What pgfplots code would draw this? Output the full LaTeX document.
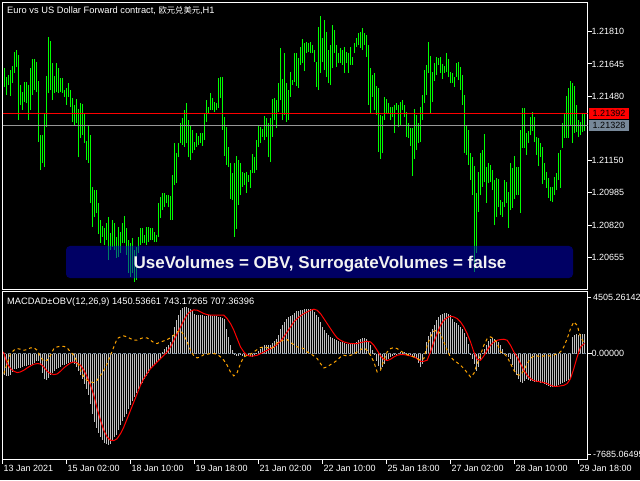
\documentclass[border=0pt]{standalone}
\usepackage{pgfplots}
\pgfplotsset{compat=1.18}
\usepackage{pgfplotstable}
\usepackage{fontspec}
\setmainfont{Liberation Sans}
\newfontfamily\cjk{Noto Sans CJK SC}
\definecolor{mtgreen}{RGB}{0,255,0}
\definecolor{mtsilver}{RGB}{192,192,192}
\definecolor{mtslate}{RGB}{119,136,153}
\definecolor{mtorange}{RGB}{255,165,0}
\definecolor{mtred}{RGB}{255,0,0}
\definecolor{mtgray}{RGB}{150,150,150}
\definecolor{boxblue}{RGB}{0,0,200}
\newcommand{\axfont}{\fontsize{9}{10}\selectfont}
\newcommand{\ttlfont}{\fontsize{9.3}{11}\selectfont}

% hourly bars: index, high, low
\pgfplotstableread{
i hi lo
0 1.21624 1.21527
1 1.21578 1.21486
2 1.21588 1.21537
3 1.21614 1.21481
4 1.21634 1.21547
5 1.21706 1.21599
6 1.21716 1.21629
7 1.21691 1.21358
8 1.21537 1.21435
9 1.21501 1.21409
10 1.21552 1.21450
11 1.21552 1.21445
12 1.21537 1.21358
13 1.21624 1.21409
14 1.21670 1.21486
15 1.21670 1.21511
16 1.21655 1.21501
17 1.21558 1.21245
18 1.21281 1.21102
19 1.21281 1.21138
20 1.21394 1.21117
21 1.21583 1.21322
22 1.21783 1.21496
23 1.21762 1.21511
24 1.21650 1.21460
25 1.21583 1.21496
26 1.21650 1.21501
27 1.21624 1.21496
28 1.21573 1.21501
29 1.21573 1.21496
30 1.21511 1.21476
31 1.21522 1.21435
32 1.21547 1.21476
33 1.21511 1.21424
34 1.21471 1.21348
35 1.21435 1.21332
36 1.21465 1.21342
37 1.21414 1.21168
38 1.21445 1.21266
39 1.21440 1.21281
40 1.21394 1.21240
41 1.21250 1.21153
42 1.21327 1.21138
43 1.21281 1.20933
44 1.21015 1.20810
45 1.20999 1.20861
46 1.20999 1.20882
47 1.20933 1.20774
48 1.20846 1.20728
49 1.20815 1.20759
50 1.20805 1.20718
51 1.20831 1.20743
52 1.20861 1.20641
53 1.20779 1.20692
54 1.20846 1.20708
55 1.20831 1.20692
56 1.20759 1.20651
57 1.20810 1.20656
58 1.20784 1.20677
59 1.20831 1.20728
60 1.20866 1.20728
61 1.20805 1.20667
62 1.20743 1.20575
63 1.20728 1.20554
64 1.20754 1.20575
65 1.20692 1.20529
66 1.20708 1.20539
67 1.20759 1.20677
68 1.20805 1.20718
69 1.20805 1.20728
70 1.20769 1.20728
71 1.20810 1.20718
72 1.20810 1.20733
73 1.20805 1.20743
74 1.20805 1.20743
75 1.20784 1.20733
76 1.20769 1.20733
77 1.20933 1.20759
78 1.20964 1.20856
79 1.20984 1.20897
80 1.20984 1.20912
81 1.20974 1.20933
82 1.20974 1.20912
83 1.20969 1.20846
84 1.21076 1.20846
85 1.21240 1.21025
86 1.21189 1.21035
87 1.21240 1.21168
88 1.21342 1.21240
89 1.21368 1.21230
90 1.21409 1.21220
91 1.21445 1.21240
92 1.21358 1.21168
93 1.21332 1.21153
94 1.21307 1.21189
95 1.21245 1.21204
96 1.21291 1.21220
97 1.21276 1.21230
98 1.21291 1.21240
99 1.21291 1.21225
100 1.21394 1.21255
101 1.21460 1.21348
102 1.21424 1.21394
103 1.21496 1.21409
104 1.21471 1.21409
105 1.21450 1.21399
106 1.21445 1.21409
107 1.21573 1.21419
108 1.21578 1.21471
109 1.21578 1.21307
110 1.21373 1.21174
111 1.21322 1.21127
112 1.21220 1.21117
113 1.21138 1.20953
114 1.21087 1.20948
115 1.21138 1.20759
116 1.21174 1.20800
117 1.21153 1.20923
118 1.21138 1.20974
119 1.21092 1.21015
120 1.21087 1.21025
121 1.21092 1.20984
122 1.21076 1.21040
123 1.21102 1.21010
124 1.21184 1.21087
125 1.21168 1.21087
126 1.21255 1.21102
127 1.21332 1.21220
128 1.21322 1.21240
129 1.21312 1.21271
130 1.21378 1.21255
131 1.21368 1.21271
132 1.21342 1.21168
133 1.21368 1.21143
134 1.21465 1.21271
135 1.21471 1.21358
136 1.21460 1.21317
137 1.21547 1.21399
138 1.21727 1.21460
139 1.21568 1.21358
140 1.21701 1.21383
141 1.21547 1.21348
142 1.21511 1.21358
143 1.21604 1.21476
144 1.21563 1.21537
145 1.21701 1.21552
146 1.21701 1.21532
147 1.21675 1.21522
148 1.21732 1.21640
149 1.21773 1.21650
150 1.21752 1.21609
151 1.21757 1.21701
152 1.21752 1.21706
153 1.21757 1.21701
154 1.21742 1.21701
155 1.21716 1.21655
156 1.21655 1.21527
157 1.21834 1.21511
158 1.21890 1.21599
159 1.21778 1.21655
160 1.21870 1.21614
161 1.21809 1.21578
162 1.21716 1.21547
163 1.21742 1.21537
164 1.21844 1.21624
165 1.21819 1.21701
166 1.21742 1.21629
167 1.21701 1.21650
168 1.21727 1.21650
169 1.21716 1.21640
170 1.21732 1.21599
171 1.21706 1.21650
172 1.21701 1.21599
173 1.21732 1.21640
174 1.21681 1.21640
175 1.21752 1.21701
176 1.21778 1.21732
177 1.21803 1.21742
178 1.21809 1.21727
179 1.21829 1.21716
180 1.21803 1.21742
181 1.21793 1.21681
182 1.21742 1.21435
183 1.21624 1.21394
184 1.21588 1.21476
185 1.21599 1.21409
186 1.21532 1.21383
187 1.21522 1.21194
188 1.21383 1.21158
189 1.21378 1.21189
190 1.21476 1.21358
191 1.21465 1.21389
192 1.21445 1.21394
193 1.21424 1.21358
194 1.21424 1.21373
195 1.21435 1.21291
196 1.21445 1.21409
197 1.21435 1.21322
198 1.21450 1.21332
199 1.21460 1.21409
200 1.21435 1.21373
201 1.21399 1.21271
202 1.21342 1.21266
203 1.21317 1.21225
204 1.21317 1.21071
205 1.21414 1.21158
206 1.21383 1.21204
207 1.21342 1.21240
208 1.21424 1.21245
209 1.21486 1.21358
210 1.21614 1.21445
211 1.21640 1.21486
212 1.21757 1.21599
213 1.21686 1.21394
214 1.21604 1.21450
215 1.21650 1.21558
216 1.21681 1.21588
217 1.21675 1.21640
218 1.21681 1.21599
219 1.21644 1.21568
220 1.21634 1.21599
221 1.21701 1.21604
222 1.21670 1.21578
223 1.21604 1.21547
224 1.21599 1.21547
225 1.21578 1.21527
226 1.21650 1.21578
227 1.21655 1.21563
228 1.21629 1.21511
229 1.21588 1.21435
230 1.21486 1.21189
231 1.21327 1.21179
232 1.21307 1.21127
233 1.21189 1.21051
234 1.21168 1.20974
235 1.21122 1.20580
236 1.20984 1.20677
237 1.21092 1.20887
238 1.21189 1.20974
239 1.21204 1.21015
240 1.21286 1.21040
241 1.21117 1.20933
242 1.21138 1.21035
243 1.21127 1.21040
244 1.21102 1.20999
245 1.21051 1.20820
246 1.21061 1.20861
247 1.21056 1.20912
248 1.20948 1.20871
249 1.20938 1.20861
250 1.21051 1.20912
251 1.21040 1.20933
252 1.20989 1.20805
253 1.21138 1.20897
254 1.21112 1.20907
255 1.21174 1.20953
256 1.21117 1.20974
257 1.21117 1.20974
258 1.21307 1.20882
259 1.21419 1.21215
260 1.21419 1.21215
261 1.21291 1.21179
262 1.21302 1.21240
263 1.21373 1.21281
264 1.21399 1.21302
265 1.21373 1.21245
266 1.21271 1.21179
267 1.21266 1.21122
268 1.21240 1.21168
269 1.21220 1.21030
270 1.21138 1.21051
271 1.21092 1.21010
272 1.21061 1.20959
273 1.21015 1.20943
274 1.21015 1.20938
275 1.21066 1.20974
276 1.21087 1.20999
277 1.21189 1.21051
278 1.21204 1.21010
279 1.21342 1.21215
280 1.21389 1.21266
281 1.21481 1.21266
282 1.21522 1.21266
283 1.21558 1.21332
284 1.21547 1.21240
285 1.21532 1.21291
286 1.21435 1.21296
287 1.21358 1.21271
288 1.21348 1.21281
289 1.21394 1.21296
290 1.21389 1.21302
}\pricedata

% MACD histogram
\pgfplotstableread{
i v
0 -1573
1 -1621
2 -1621
3 -1573
4 -1331
5 -1137
6 -1089
7 -1041
8 -1041
9 -968
10 -920
11 -895
12 -847
13 -847
14 -799
15 -653
16 -557
17 -508
18 -847
19 -1379
20 -1815
21 -1936
22 -1767
23 -1525
24 -1379
25 -1283
26 -1137
27 -1041
28 -968
29 -847
30 -799
31 -726
32 -653
33 -605
34 -653
35 -750
36 -968
37 -1283
38 -1573
39 -1863
40 -2178
41 -2541
42 -3025
43 -3630
44 -4356
45 -4961
46 -5397
47 -5735
48 -6050
49 -6292
50 -6461
51 -6558
52 -6607
53 -6534
54 -6316
55 -6074
56 -5881
57 -5566
58 -5203
59 -4913
60 -4622
61 -4356
62 -4041
63 -3751
64 -3461
65 -3170
66 -2831
67 -2541
68 -2299
69 -2105
70 -1863
71 -1621
72 -1379
73 -1137
74 -968
75 -799
76 -653
77 -508
78 -363
79 121
80 315
81 460
82 605
83 847
84 1331
85 1936
86 2420
87 2831
88 3146
89 3315
90 3364
91 3388
92 3340
93 3267
94 3073
95 2904
96 2831
97 2783
98 2783
99 2783
100 2735
101 2735
102 2783
103 2783
104 2735
105 2735
106 2735
107 2662
108 2662
109 2589
110 2493
111 1815
112 1210
113 605
114 242
115 -50
116 -169
117 -169
118 -121
119 -194
120 -242
121 -169
122 -121
123 -169
124 -242
125 -121
126 30
127 169
128 363
129 484
130 605
131 653
132 653
133 605
134 750
135 895
136 1041
137 1331
138 1815
139 2105
140 2299
141 2541
142 2662
143 2735
144 2831
145 2977
146 3073
147 3122
148 3146
149 3194
150 3219
151 3219
152 3267
153 3267
154 3146
155 3025
156 2831
157 2662
158 2299
159 1936
160 1742
161 1525
162 1331
163 1210
164 1137
165 1089
166 992
167 920
168 847
169 823
170 799
171 726
172 726
173 726
174 774
175 799
176 847
177 968
178 1089
179 1137
180 1137
181 1089
182 847
183 605
184 242
185 -121
186 -557
187 -895
188 -1089
189 -968
190 -750
191 -557
192 -363
193 -242
194 -169
195 -121
196 -24
197 73
198 121
199 121
200 121
201 24
202 -48
203 -121
204 -194
205 -266
206 -411
207 -653
208 -968
209 -726
210 30
211 847
212 1283
213 1573
214 1767
215 2057
216 2420
217 2662
218 2783
219 2880
220 2928
221 2977
222 2904
223 2783
224 2541
225 2299
226 2202
227 2105
228 1936
229 1767
230 1525
231 1210
232 726
233 -121
234 -411
235 -726
236 -1283
237 -968
238 -484
239 50
240 315
241 653
242 895
243 1089
244 1137
245 1089
246 1016
247 847
248 605
249 315
250 73
251 -73
252 -242
253 -411
254 -847
255 -1283
256 -1573
257 -1863
258 -2057
259 -2105
260 -2009
261 -1863
262 -1888
263 -1960
264 -2009
265 -2057
266 -2057
267 -2081
268 -2105
269 -2154
270 -2202
271 -2299
272 -2347
273 -2420
274 -2444
275 -2420
276 -2347
277 -2251
278 -2178
279 -2105
280 -2057
281 -1984
282 -1888
283 -1815
284 1210
285 1331
286 1404
287 1380
288 1404
289 1428
290 1451
}\histdata

% signal line (red)
\pgfplotstableread{
x v
-0.5 121
1.33 -726
3 -1089
4.67 -1283
6.33 -1379
8 -1331
9.67 -1210
11.33 -1041
13 -895
14.67 -774
16.33 -726
18 -750
19.67 -968
21.33 -1283
23 -1452
24.67 -1525
26.33 -1476
28 -1283
29.67 -1041
31.33 -847
33 -678
34.67 -605
36.33 -678
38 -847
39.67 -1210
41.33 -1694
43 -2299
44.67 -3025
46.33 -3993
48 -4840
49.67 -5566
51.33 -6050
53 -6292
54.67 -6316
56.33 -6171
58 -5808
59.67 -5324
61.33 -4719
63 -4114
64.67 -3509
66.33 -2904
68 -2299
69.67 -1815
71.33 -1452
73 -1089
74.67 -847
76.33 -605
78 -363
79.67 -121
81.33 121
83 484
84.67 968
86.33 1452
88 1936
89.67 2420
91.33 2831
93 3073
94.67 3170
96.33 3146
98 3025
99.67 2904
101.33 2831
103 2783
104.67 2783
106.33 2783
108 2783
109.67 2783
111.33 2541
113 2178
114.67 1694
116.33 1089
118 484
119.67 121
121.33 -121
123 -194
124.67 -169
126.33 -121
128 0
129.67 121
131.33 242
133 363
134.67 484
136.33 653
138 895
139.67 1210
141.33 1573
143 1936
144.67 2299
146.33 2541
148 2735
149.67 2904
151.33 3025
153 3146
154.67 3219
156.33 3146
158 2904
159.67 2541
161.33 2178
163 1815
164.67 1452
166.33 1137
168 968
169.67 847
171.33 774
173 726
174.67 726
176.33 726
178 799
179.67 847
181.33 895
183 847
184.67 605
186.33 242
188 -169
189.67 -411
191.33 -508
193 -411
194.67 -242
196.33 -121
198 -73
199.67 -73
201.33 -121
203 -169
204.67 -242
206.33 -363
208 -557
209.67 -557
211.33 -484
213 121
214.67 847
216.33 1452
218 2057
219.67 2420
221.33 2614
223 2710
224.67 2662
226.33 2541
228 2299
229.67 1936
231.33 1452
233 847
234.67 121
236.33 -411
238 -484
239.67 -169
241.33 242
243 605
244.67 847
246.33 968
248 1016
249.67 1041
251.33 968
253 605
254.67 121
256.33 -242
258 -726
259.67 -1210
261.33 -1573
263 -1815
264.67 -1960
266.33 -2009
268 -2057
269.67 -2105
271.33 -2178
273 -2299
274.67 -2372
276.33 -2372
278 -2347
279.67 -2299
281.33 -2178
283 -1815
284.67 -1089
286.33 -242
288 484
290 743
}\signaldata

% second line (orange, dashed)
\pgfplotstableread{
x v
-0.33 -1452
1.33 -726
3 0
4.67 242
6.33 363
8 315
9.67 242
11.33 290
13 411
14.67 436
16.33 242
18 -242
19.67 -557
21.33 -484
23 -121
24.67 363
26.33 484
28 532
29.67 532
31.33 411
33 121
34.67 -121
36.33 -605
38 -1210
39.67 -1694
41.33 -1936
43 -2057
44.67 -2105
46.33 -1936
48 -1573
49.67 -1210
51.33 -726
53 -121
54.67 484
56.33 1089
58 1210
59.67 1283
61.33 1210
63 1089
64.67 968
66.33 968
68 1089
69.67 1162
71.33 1137
73 968
74.67 799
76.33 726
78 847
79.67 920
81.33 1016
83 1137
84.67 1331
86.33 1573
88 1694
89.67 1331
91.33 847
93 242
94.67 -169
96.33 -315
98 -242
99.67 -73
101.33 -48
103 0
104.67 0
106.33 -48
108 -242
109.67 -484
111.33 -847
113 -1331
114.67 -1621
116.33 -1379
118 -726
119.67 -242
121.33 -121
123 -48
124.67 121
126.33 290
128 436
129.67 484
131.33 436
133 363
134.67 484
136.33 799
138 895
139.67 968
141.33 1016
143 799
144.67 653
146.33 484
148 436
149.67 363
151.33 121
153 0
154.67 -169
156.33 -363
158 -726
159.67 -1041
161.33 -968
163 -799
164.67 -653
166.33 -484
168 -242
169.67 -121
171.33 -169
173 -121
174.67 -48
176.33 121
178 290
179.67 411
181.33 242
183 -121
184.67 -605
186.33 -1331
188 -1210
189.67 -484
191.33 121
193 363
194.67 436
196.33 363
198 194
199.67 48
201.33 -73
203 -169
204.67 -242
206.33 -363
208 -484
209.67 -363
211.33 605
213 1210
214.67 1621
216.33 1694
218 1452
219.67 847
221.33 242
223 -242
224.67 -484
226.33 -653
228 -847
229.67 -1089
231.33 -1379
233 -1694
234.67 -1452
236.33 -726
238 -121
239.67 605
241.33 1089
243 1210
244.67 1089
246.33 726
248 121
249.67 0
251.33 -242
253 -726
254.67 -1210
256.33 -1525
258 -1573
259.67 -1210
261.33 -726
263 -363
264.67 -169
266.33 -169
268 -242
269.67 -169
271.33 -121
273 -194
274.67 -121
276.33 0
278 121
279.67 484
281.33 1089
283 1815
284.67 2299
286.33 2057
288 1210
290 707
}\orangedata

\begin{document}
\begin{tikzpicture}[x=1pt,y=1pt]
\useasboundingbox (0,0) rectangle (640,480);
\fill[black] (0,0) rectangle (640,480);
\clip (0,0) rectangle (640,480);

% ---------------- price panel ----------------
\begin{axis}[
  at={(2.5pt,190.5pt)}, anchor=south west,
  scale only axis, width=585pt, height=287pt,
  xmin=-1, xmax=291.5, ymin=1.20490, ymax=1.21960,
  axis line style={white, line width=1pt},
  xtick=\empty,
  ytick={1.20655,1.20820,1.20985,1.21150,1.21480,1.21645,1.21810},
  yticklabels={1.20655,1.20820,1.20985,1.21150,1.21480,1.21645,1.21810},
  ytick pos=right, yticklabel pos=right,
  tick align=outside, major tick length=4pt,
  tick style={white, line width=1pt},
  yticklabel style={text=white, anchor=west, inner sep=0pt, font=\axfont},
]
\addplot[mtgreen, line width=1pt, mark=none, forget plot,
  quiver={u=0, v=\thisrow{hi}-\thisrow{lo}}]
  table[x=i, y=lo] {\pricedata};
\addplot[mtred, line width=1pt, mark=none] coordinates {(-1,1.21392) (291.5,1.21392)};
\addplot[mtgray, line width=1pt, mark=none] coordinates {(-1,1.21328) (291.5,1.21328)};
\end{axis}

% ---------------- indicator panel ----------------
\begin{axis}[
  at={(2.5pt,20.5pt)}, anchor=south west,
  scale only axis, width=585pt, height=168pt,
  xmin=-1, xmax=291.5, ymin=-7685.06495, ymax=4505.26142,
  axis line style={white, line width=1pt},
  xtick={-1,31,63,95,127,159,191,223,255,287},
  xticklabels={13 Jan 2021,15 Jan 02:00,18 Jan 10:00,19 Jan 18:00,21 Jan 02:00,22 Jan 10:00,25 Jan 18:00,27 Jan 02:00,28 Jan 10:00,29 Jan 18:00},
  xtick pos=bottom,
  ytick={0}, yticklabels={0.00000},
  ytick pos=right, yticklabel pos=right,
  tick align=outside, major tick length=4pt,
  tick style={white, line width=1pt},
  yticklabel style={text=white, anchor=west, inner sep=0pt, font=\axfont},
  xticklabel style={text=white, anchor=north west, inner sep=0pt, font=\axfont, xshift=1pt, yshift=-2pt},
]
\addplot[ycomb, mtsilver, line width=1pt, mark=none] table[x=i, y=v] {\histdata};
\addplot[mtslate, line width=1pt, dash pattern=on 3pt off 2pt, mark=none] coordinates {(-1,0) (291.5,0)};
\addplot[mtred, line width=1pt, mark=none] table[x=x, y=v] {\signaldata};
\addplot[mtorange, line width=1pt, dash pattern=on 3pt off 3pt, mark=none] table[x=x, y=v] {\orangedata};
\end{axis}

% extreme scale labels of the indicator window
\draw[white, line width=1pt] (587,183) -- (591,183);
\draw[white, line width=1pt] (587,26) -- (591,26);
\node[anchor=west, inner sep=0pt, text=white, font=\axfont] at (593,183) {4505.26142};
\node[anchor=west, inner sep=0pt, text=white, font=\axfont] at (593,26) {-7685.06495};

% bid / ask price tags
\fill[mtred] (589,361) rectangle (629,372);
\node[inner sep=0pt, text=black, font=\axfont] at (609,366.5) {1.21392};
\fill[mtslate] (589,349) rectangle (629,360);
\node[inner sep=0pt, text=black, font=\axfont] at (609,354.5) {1.21328};

% info banner
\fill[boxblue, fill opacity=0.5, rounded corners=4pt] (66,202) rectangle (573,234);
\node[anchor=base, inner sep=0pt, text=white!90!gray, font=\bfseries\fontsize{17}{20}\selectfont] at (320,211.7) {UseVolumes = OBV, SurrogateVolumes = false};

% window titles
\node[anchor=base west, inner sep=0pt, text=white, font=\ttlfont] at (7,466.7) {Euro vs US Dollar Forward contract, {\cjk\fontsize{8.3}{10}\selectfont 欧元兑美元},H1};
\node[anchor=base west, inner sep=0pt, text=white, font=\ttlfont] at (7,176) {MACDAD±OBV(12,26,9) 1450.53661 743.17265 707.36396};
\end{tikzpicture}
\end{document}
